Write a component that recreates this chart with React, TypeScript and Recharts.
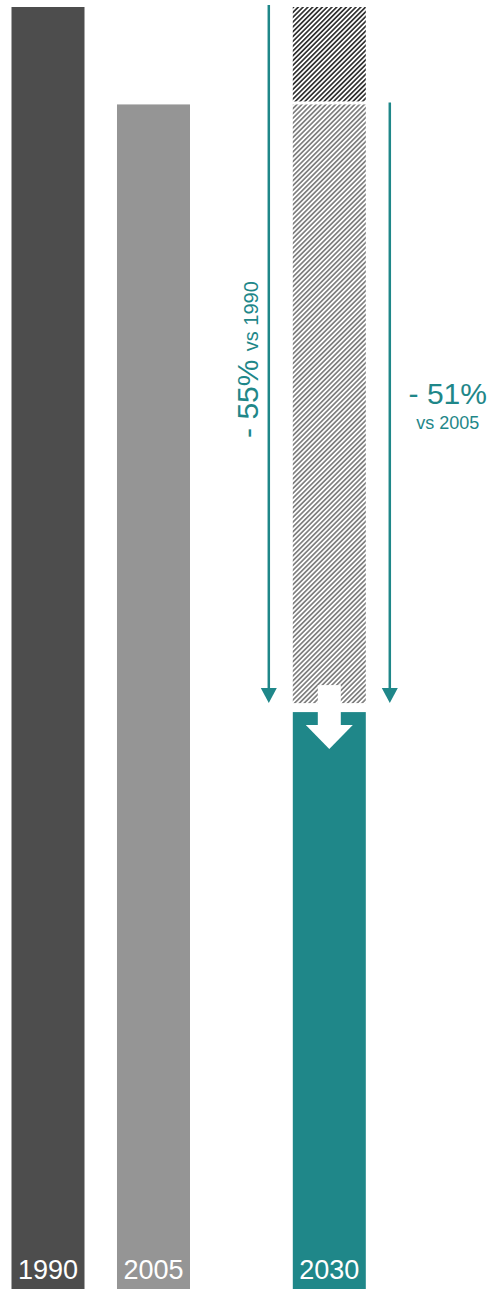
import { Bar, BarChart, LabelList, XAxis, YAxis } from "recharts";

const years = [1990, 2005, 2030];
const emissions = [100, 92.4, 45];
const barColors = ["#4d4d4d", "#959595", "#1f8789"];

const TEAL = "#1f8789";
const FONT = "'Liberation Sans', Arial, sans-serif";

const target = emissions[2];
const cutVs1990 = Math.round((1 - target / emissions[0]) * 100);
const cutVs2005 = Math.round((1 - target / emissions[1]) * 100);

// the 2030 bar carries two hatched segments: what is removed vs 2005, and vs 1990
const data = years.map((year, i) => ({
  year,
  value: emissions[i],
  cut2005: i === 2 ? emissions[1] - target : 0,
  cut1990: i === 2 ? emissions[0] - emissions[1] : 0,
}));

function HatchLight(props: any) {
  const { x, y, width, height } = props;
  if (!height) return <g />;
  return (
    <rect x={x} y={y} width={width} height={Math.max(0, height - 9)} fill="url(#hatchLight)" />
  );
}

function HatchDark(props: any) {
  const { x, y, width, height, payload } = props;
  if (!height || !payload.cut1990) return <g />;

  // px per unit, taken from this segment's own scaled height
  const k = height / payload.cut1990;
  const base = y + height + (payload.cut2005 + payload.value) * k;
  const toY = (v: number) => base - v * k;
  const top1990 = toY(emissions[0]);
  const top2005 = toY(emissions[1]);
  const topTarget = toY(target);

  const lx = x - 24;
  const rx = x + width + 24;
  const cx = x + width / 2;
  const arrowEnd = topTarget - 24;
  const tip = topTarget - 9;

  const leftMid = (top1990 + topTarget) / 2;
  const rightMid = (top2005 + topTarget) / 2;

  return (
    <g>
      <rect x={x} y={y} width={width} height={Math.max(0, height - 3)} fill="url(#hatchDark)" />

      {/* white down arrow cutting into the 2030 bar */}
      <rect x={cx - 11.5} y={topTarget - 27} width={23} height={41} fill="#fff" />
      <polygon
        points={`${cx - 23.5},${topTarget + 13} ${cx + 23.5},${topTarget + 13} ${cx},${topTarget + 37}`}
        fill="#fff"
      />

      {/* reduction arrows */}
      <line x1={lx} y1={top1990 - 2} x2={lx} y2={arrowEnd} stroke={TEAL} strokeWidth={2.5} />
      <polygon points={`${lx - 8},${arrowEnd} ${lx + 8},${arrowEnd} ${lx},${tip}`} fill={TEAL} />
      <line x1={rx} y1={top2005 - 2} x2={rx} y2={arrowEnd} stroke={TEAL} strokeWidth={2.5} />
      <polygon points={`${rx - 8},${arrowEnd} ${rx + 8},${arrowEnd} ${rx},${tip}`} fill={TEAL} />

      <text
        transform={`translate(${lx - 11}, ${leftMid}) rotate(-90)`}
        textAnchor="middle"
        fill={TEAL}
        fontFamily={FONT}
      >
        <tspan fontSize={30}>- {cutVs1990}% </tspan>
        <tspan fontSize={20}>vs 1990</tspan>
      </text>

      <text x={rx + 58} y={rightMid - 4} textAnchor="middle" fill={TEAL} fontFamily={FONT} fontSize={30}>
        - {cutVs2005}%
      </text>
      <text x={rx + 58} y={rightMid + 21} textAnchor="middle" fill={TEAL} fontFamily={FONT} fontSize={18}>
        vs 2005
      </text>
    </g>
  );
}

function ValueBar(props: any) {
  const { x, y, width, height, index } = props;
  return <rect x={x} y={y} width={width} height={height} fill={barColors[index]} />;
}

export default function App() {
  return (
    <div style={{ width: 487, height: 1289, fontFamily: FONT }}>
      <style>{"body{margin:0}"}</style>
      <BarChart
        width={487}
        height={1289}
        data={data}
        margin={{ top: 7, right: 0, left: 0, bottom: 0 }}
        barSize={73}
      >
        <defs>
          <pattern id="hatchDark" width="3.4" height="3.4" patternUnits="userSpaceOnUse" patternTransform="rotate(45)">
            <line x1="1.7" y1="0" x2="1.7" y2="3.4" stroke="#333" strokeWidth="1.7" />
          </pattern>
          <pattern id="hatchLight" width="3.4" height="3.4" patternUnits="userSpaceOnUse" patternTransform="rotate(45)">
            <line x1="1.7" y1="0" x2="1.7" y2="3.4" stroke="#808080" strokeWidth="1.7" />
          </pattern>
        </defs>
        <XAxis type="number" dataKey="year" domain={[1983.14, 2052.39]} hide />
        <YAxis type="number" domain={[0, 100]} hide />
        <Bar dataKey="value" stackId="a" shape={ValueBar} isAnimationActive={false}>
          <LabelList
            dataKey="year"
            position="insideBottom"
            offset={10}
            fill="#fff"
            fontSize={27}
            fontFamily={FONT}
          />
        </Bar>
        <Bar dataKey="cut2005" stackId="a" shape={HatchLight} isAnimationActive={false} />
        <Bar dataKey="cut1990" stackId="a" shape={HatchDark} isAnimationActive={false} />
      </BarChart>
    </div>
  );
}
